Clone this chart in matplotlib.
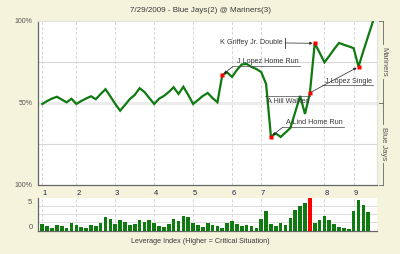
import numpy as np
import matplotlib.pyplot as plt
from matplotlib.transforms import ScaledTranslation

plt.rcParams['font.family'] = ['Liberation Sans', 'DejaVu Sans']

title = "7/29/2009 - Blue Jays(2) @ Mariners(3)"
home_team = "Mariners"
away_team = "Blue Jays"

# Mariners win probability (%) at each plate appearance
win_prob = [49.4, 51.2, 52.7, 53.8, 52.1, 50.4, 52.6, 49.4, 51.2, 52.7,
            54.1, 52.3, 55.5, 58.4, 54.0, 49.4, 45.3, 48.8, 52.4, 54.9,
            59.0, 56.7, 53.0, 49.4, 52.6, 54.3, 56.7, 59.6, 55.5, 59.9,
            54.9, 49.4, 51.8, 54.3, 56.1, 53.0, 50.4, 67.1, 68.6, 65.9,
            70.1, 73.5, 73.8, 72.0, 70.7, 68.9, 61.6, 29.5, 31.4, 29.3,
            32.0, 34.8, 44.5, 54.3, 43.3, 55.9, 86.4, 80.7, 74.8, 78.7,
            82.9, 86.6, 85.5, 84.5, 83.4, 72.1, 81.7, 90.9, 100.0]

# leverage index of each plate appearance
leverage = [1.22, 0.82, 0.51, 1.16, 0.82, 0.47, 1.43, 1.16, 0.76, 0.47,
            1.16, 0.88, 1.57, 2.65, 2.24, 1.29, 2.18, 1.73, 1.16, 1.29,
            2.18, 1.73, 2.04, 1.47, 0.98, 0.65, 1.27, 2.29, 1.88, 2.96,
            2.69, 1.59, 1.12, 0.76, 1.49, 1.16, 0.82, 0.47, 1.57, 1.90,
            1.29, 0.96, 1.02, 0.82, 0.55, 2.31, 3.88, 1.29, 0.88, 1.57,
            1.16, 2.59, 4.08, 4.90, 5.45, 6.59, 1.57, 2.18, 2.86, 2.04,
            1.29, 0.67, 0.47, 0.35, 3.82, 6.12, 5.04, 3.67]

inning_starts = [0, 7, 15, 23, 31, 39, 45, 58, 64]
inning_labels = ['1', '2', '3', '4', '5', '6', '7', '8', '9']

event_idx = [37, 47, 55, 56, 65]
event_text = ["J Lopez Home Run", "A Lind Home Run", "A Hill Walked",
              "K Griffey Jr. Double", "J Lopez Single"]

# label layout: text x, text y, ha, line x0, line x1, line y, arrow start x, arrow start y
label_layout = [
    (46.4, 75.0, 'center', 39.2, 53.0, 72.3, 39.2, 72.3),
    (56.0, 37.8, 'center', 49.5, 62.0, 35.4, 49.5, 35.4),
    (50.6, 51.2, 'center', 45.8, 55.0, 54.0, None, None),
    (49.5, 86.6, 'right', None, None, None, 49.9, 86.6),
    (62.9, 63.4, 'center', 57.5, 68.0, 60.7, 55.3, 56.7),
]

bg = '#f5f3dc'
txt = '#3a3a3a'
green = '#0f7a0f'

fig = plt.figure(figsize=(4, 2.54), dpi=100, facecolor=bg)
ax = fig.add_axes([0.095, 0.2717, 0.8475, 0.6457])
ax2 = fig.add_axes([0.095, 0.0925, 0.8475, 0.128])

x = np.arange(len(win_prob))
xlim = (-0.88, 68.8)

# main win probability chart
ax.set_facecolor('white')
ax.set_xlim(*xlim)
ax.set_ylim(0, 100)
for s in inning_starts:
    ax.axvline(s, color='#d4d4d4', lw=0.7, ls=(0, (3, 2)), zorder=1)
ax.axhline(75, color='#d8d8d8', lw=0.8, zorder=1)
ax.axhline(25, color='#d8d8d8', lw=0.8, zorder=1)
ax.axhline(50, color='#ececec', lw=2.2, zorder=1)
ax.plot(x, win_prob, color=green, lw=1.6, zorder=3, solid_joinstyle='miter')

ev_y = [win_prob[i] for i in event_idx]
ax.plot(event_idx, ev_y, 's', color='red', ms=2.2, mec='none', zorder=5)

for (i, label, lay) in zip(event_idx, event_text, label_layout):
    tx, ty, ha, lx0, lx1, ly, axs, ays = lay
    ax.text(tx, ty, label, ha=ha, va='center', fontsize=5.2, color=txt, zorder=6)
    if lx0 is not None:
        ax.plot([lx0, lx1], [ly, ly], color='#444444', lw=0.5, zorder=4)
    if axs is not None:
        ax.annotate('', xy=(i, win_prob[i]), xytext=(axs, ays),
                    arrowprops=dict(arrowstyle='-|>', color='#222222', lw=0.5,
                                    mutation_scale=4, shrinkA=0, shrinkB=1.5),
                    zorder=4)
    if ha == 'right':
        ax.plot([axs, axs], [ays - 3, ays + 3], color='#333333', lw=0.6, zorder=4)

ax.set_yticks([0, 50, 100])
ax.set_yticklabels(['100%', '50%', '100%'], fontsize=5, color='#555555')
ax.set_xticks(inning_starts)
ax.set_xticklabels(inning_labels, fontsize=5.5, color='#22224a')
ax.tick_params(length=0, pad=4)
ax.tick_params(axis='x', pad=3.5)
shift_right = ScaledTranslation(0.02, 0, fig.dpi_scale_trans)
for lab in ax.get_xticklabels():
    lab.set_transform(lab.get_transform() + shift_right)
for side in ['top', 'right']:
    ax.spines[side].set_color('#e0e0e0')
for side in ['left', 'bottom']:
    ax.spines[side].set_color('#666666')
    ax.spines[side].set_linewidth(0.9)

# team bracket on the right
bx = 1.019
ax.plot([bx, bx], [0, 1], transform=ax.transAxes, color='#666666', lw=0.6, clip_on=False)
for yy in [0, 0.5, 1]:
    ax.plot([bx - 0.012, bx], [yy, yy], transform=ax.transAxes, color='#666666',
            lw=0.6, clip_on=False)
ax.text(bx, 0.75, home_team, transform=ax.transAxes, rotation=-90, ha='center',
        va='center', fontsize=5.5, color='#555555',
        bbox=dict(fc=bg, ec='none', pad=1.5))
ax.text(bx, 0.25, away_team, transform=ax.transAxes, rotation=-90, ha='center',
        va='center', fontsize=5.5, color='#555555',
        bbox=dict(fc=bg, ec='none', pad=1.5))

# leverage chart
ax2.set_facecolor('white')
ax2.set_xlim(*xlim)
ax2.set_ylim(0, 6.5)
for s in inning_starts:
    ax2.axvline(s, color='#d4d4d4', lw=0.7, ls=(0, (3, 2)), zorder=1)
for f in [0.25, 0.5, 0.75]:
    ax2.plot([0, 1], [f, f], transform=ax2.transAxes, color='#dcdcdc', lw=0.7, zorder=1)
bx_pos = np.arange(len(leverage))
colors = [green] * len(leverage)
colors[int(np.argmax(leverage))] = '#ff0000'
ax2.bar(bx_pos, leverage, width=0.75, color=colors, zorder=3)
ax2.set_xticks([])
ax2.set_yticks([0, 5])
ax2.set_yticklabels(['0', '5'], fontsize=5.5, color='#555555')
ax2.tick_params(length=0, pad=4)
shift_up = ScaledTranslation(0, 0.04, fig.dpi_scale_trans)
for lab in ax2.get_yticklabels():
    lab.set_transform(lab.get_transform() + shift_up)
for side in ['top', 'right']:
    ax2.spines[side].set_visible(False)
for side in ['left', 'bottom']:
    ax2.spines[side].set_color('#666666')
    ax2.spines[side].set_linewidth(0.9)

fig.text(0.5, 0.957, title, ha='center', va='center', fontsize=5.8, color=txt)
fig.text(0.5, 0.051, "Leverage Index (Higher = Critical Situation)", ha='center',
         va='center', fontsize=5.2, color=txt)

fig.savefig('out.png', dpi=100, facecolor=bg)
